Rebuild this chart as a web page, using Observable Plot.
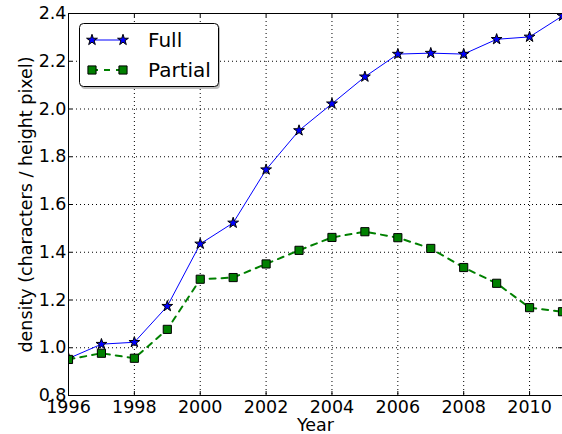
<!DOCTYPE html>
<html>
<head>
<meta charset="utf-8">
<script src="https://cdn.jsdelivr.net/npm/d3@7"></script>
<script src="https://cdn.jsdelivr.net/npm/@observablehq/plot@0.6"></script>
<style>
  html, body { margin: 0; padding: 0; background: white; }
  #chart { position: relative; width: 562px; height: 434px; overflow: hidden; }
</style>
</head>
<body>
<div id="chart"></div>
<script>
const years = [1996, 1997, 1998, 1999, 2000, 2001, 2002, 2003, 2004, 2005, 2006, 2007, 2008, 2009, 2010, 2011];
const fullValues = [0.955, 1.015, 1.023, 1.174, 1.435, 1.523, 1.746, 1.910, 2.022, 2.135, 2.230, 2.234, 2.230, 2.292, 2.302, 2.390];
const partialValues = [0.951, 0.977, 0.956, 1.077, 1.287, 1.294, 1.351, 1.408, 1.462, 1.486, 1.461, 1.416, 1.336, 1.270, 1.168, 1.151];
const xTicks = [1996, 1998, 2000, 2002, 2004, 2006, 2008, 2010];
const yTicks = [0.8, 1.0, 1.2, 1.4, 1.6, 1.8, 2.0, 2.2, 2.4];
const seriesNames = ["Full", "Partial"];
const xLabel = "Year";
const yLabel = "density (characters / height pixel)";

const full = years.map((year, i) => ({year, value: fullValues[i]}));
const partial = years.map((year, i) => ({year, value: partialValues[i]}));

const FONT = "'DejaVu Sans', 'Bitstream Vera Sans', sans-serif";
const STAR_R = 3.4, SQUARE_R = 4.6;

const chart = Plot.plot({
  width: 562,
  height: 434,
  marginLeft: 68,
  marginRight: 0,
  marginTop: 13,
  marginBottom: 39,
  style: {fontFamily: FONT, fontSize: "17.5px", color: "black", background: "white", overflow: "visible"},
  x: {domain: [1996, 2011]},
  y: {domain: [0.8, 2.4]},
  marks: [
    Plot.gridX(xTicks, {stroke: "black", strokeOpacity: 1, strokeWidth: 1, strokeDasharray: "1,3"}),
    Plot.gridY(yTicks, {stroke: "black", strokeOpacity: 1, strokeWidth: 1, strokeDasharray: "1,3"}),
    // inward ticks on all four sides
    Plot.tickX(xTicks, {x: d => d, insetTop: 378, stroke: "black"}),
    Plot.tickX(xTicks, {x: d => d, insetBottom: 378, stroke: "black"}),
    Plot.tickY(yTicks, {y: d => d, insetRight: 490, stroke: "black"}),
    Plot.tickY(yTicks, {y: d => d, insetLeft: 490, stroke: "black"}),
    Plot.axisX(xTicks, {tickSize: 0, tickPadding: 5, tickFormat: d => String(d), label: null, fontSize: "17.5px"}),
    Plot.axisY(yTicks, {tickSize: 0, tickPadding: 2, tickFormat: d => d.toFixed(1), label: null, fontSize: "17.5px"}),
    Plot.text([xLabel], {frameAnchor: "bottom", lineAnchor: "top", dy: 23, fontSize: 17.5}),
    Plot.text([yLabel], {frameAnchor: "left", rotate: -90, textAnchor: "middle", lineAnchor: "top", dx: -49, fontSize: 17.5}),
    Plot.line(full, {x: "year", y: "value", stroke: "#0000ff", strokeWidth: 1, clip: true}),
    Plot.dot(full, {x: "year", y: "value", symbol: "star", r: STAR_R, fill: "#0000ff", stroke: "black", strokeWidth: 1, clip: true}),
    Plot.line(partial, {x: "year", y: "value", stroke: "#008000", strokeWidth: 2, strokeDasharray: "6,6", clip: true}),
    Plot.dot(partial, {x: "year", y: "value", symbol: "square", r: SQUARE_R, fill: "#008000", stroke: "black", strokeWidth: 1, clip: true}),
    Plot.frame({stroke: "black", strokeWidth: 1})
  ]
});

document.getElementById("chart").appendChild(chart);

// Legend (matplotlib-style box, upper left)
const svg = d3.select(chart);
const lg = svg.append("g").attr("font-family", FONT).attr("text-anchor", "start");
lg.append("rect").attr("x", 81).attr("y", 25).attr("width", 139).attr("height", 64)
  .attr("rx", 4).attr("fill", "#808080").attr("fill-opacity", 0.5);
lg.append("rect").attr("x", 79.5).attr("y", 23.5).attr("width", 139).attr("height", 63)
  .attr("rx", 4).attr("fill", "white").attr("stroke", "black").attr("stroke-width", 1);

const entries = [
  {name: seriesNames[0], y: 40, stroke: "#0000ff", width: 1, dash: null, fill: "#0000ff", symbol: d3.symbolStar, r: STAR_R},
  {name: seriesNames[1], y: 70, stroke: "#008000", width: 2, dash: "6,6", fill: "#008000", symbol: d3.symbolSquare, r: SQUARE_R}
];
for (const e of entries) {
  lg.append("line").attr("x1", 92).attr("x2", 123).attr("y1", e.y).attr("y2", e.y)
    .attr("stroke", e.stroke).attr("stroke-width", e.width).attr("stroke-dasharray", e.dash);
  for (const cx of [92, 123]) {
    lg.append("path").attr("d", d3.symbol(e.symbol, Math.PI * e.r * e.r)())
      .attr("transform", `translate(${cx},${e.y})`)
      .attr("fill", e.fill).attr("stroke", "black").attr("stroke-width", 1);
  }
  lg.append("text").attr("x", 148).attr("y", e.y).attr("dy", "0.36em")
    .attr("text-anchor", "start").style("font-size", "20px").attr("fill", "black").text(e.name);
}
</script>
</body>
</html>
